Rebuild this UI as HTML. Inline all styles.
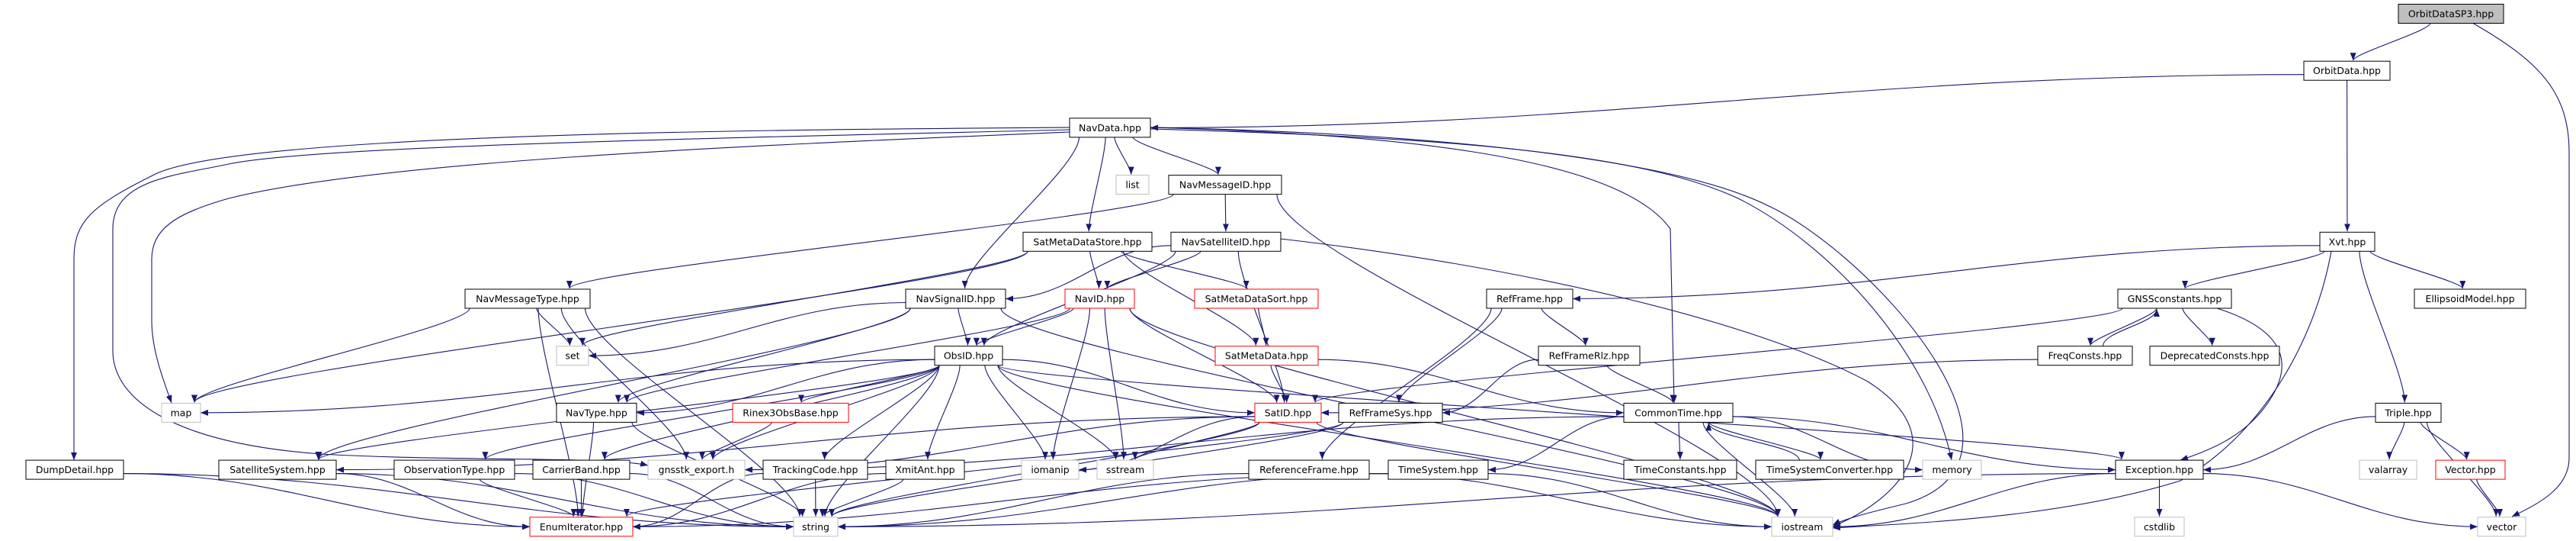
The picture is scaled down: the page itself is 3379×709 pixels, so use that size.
<!DOCTYPE html>
<html><head><meta charset="utf-8">
<style>
html,body{margin:0;padding:0;background:#fff;}
svg{display:block;}
text{font-family:"DejaVu Sans","Liberation Sans",sans-serif;font-size:12.5px;fill:#000;text-anchor:middle;}
</style></head>
<body>
<svg id="g" width="3379" height="709" viewBox="0 0 3379 709" xmlns="http://www.w3.org/2000/svg">
<defs>
<marker id="ah" markerUnits="userSpaceOnUse" markerWidth="11" markerHeight="9" refX="10" refY="4" orient="auto">
<path d="M0,0 L10,4 L0,8 z" fill="#191970"/>
</marker>
</defs>
<g id="edges" fill="none" stroke="#191970" stroke-width="1.1"></g>
<g id="nodes">
<g id="OrbitDataSP3"><rect x="3146" y="5.5" width="138" height="25" fill="#bfbfbf" stroke="#000"/><text x="3215" y="22.5">OrbitDataSP3.hpp</text></g>
<g id="OrbitData"><rect x="3022" y="80.2" width="113" height="25" fill="#fff" stroke="#000"/><text x="3078.5" y="97.2">OrbitData.hpp</text></g>
<g id="NavData"><rect x="1403" y="154.9" width="106" height="25" fill="#fff" stroke="#000"/><text x="1456" y="171.9">NavData.hpp</text></g>
<g id="list"><rect x="1464" y="229.6" width="43" height="25" fill="#fff" stroke="#bfbfbf"/><text x="1485.5" y="246.6">list</text></g>
<g id="NavMessageID"><rect x="1533" y="229.6" width="148" height="25" fill="#fff" stroke="#000"/><text x="1607" y="246.6">NavMessageID.hpp</text></g>
<g id="SatMetaDataStore"><rect x="1342" y="304.3" width="169" height="25" fill="#fff" stroke="#000"/><text x="1426.5" y="321.3">SatMetaDataStore.hpp</text></g>
<g id="NavSatelliteID"><rect x="1536" y="304.3" width="144" height="25" fill="#fff" stroke="#000"/><text x="1608" y="321.3">NavSatelliteID.hpp</text></g>
<g id="Xvt"><rect x="3043" y="304.3" width="72" height="25" fill="#fff" stroke="#000"/><text x="3079" y="321.3">Xvt.hpp</text></g>
<g id="NavMessageType"><rect x="610" y="379" width="164" height="25" fill="#fff" stroke="#000"/><text x="692" y="396">NavMessageType.hpp</text></g>
<g id="NavSignalID"><rect x="1188" y="379" width="131" height="25" fill="#fff" stroke="#000"/><text x="1253.5" y="396">NavSignalID.hpp</text></g>
<g id="NavID"><rect x="1397" y="379" width="91" height="25" fill="#fff" stroke="#f00"/><text x="1442.5" y="396">NavID.hpp</text></g>
<g id="SatMetaDataSort"><rect x="1567" y="379" width="162" height="25" fill="#fff" stroke="#f00"/><text x="1648" y="396">SatMetaDataSort.hpp</text></g>
<g id="RefFrame"><rect x="1950" y="379" width="113" height="25" fill="#fff" stroke="#000"/><text x="2006.5" y="396">RefFrame.hpp</text></g>
<g id="GNSSconstants"><rect x="2778" y="379" width="149" height="25" fill="#fff" stroke="#000"/><text x="2852.5" y="396">GNSSconstants.hpp</text></g>
<g id="EllipsoidModel"><rect x="3167" y="379" width="146" height="25" fill="#fff" stroke="#000"/><text x="3240" y="396">EllipsoidModel.hpp</text></g>
<g id="set"><rect x="730" y="453.7" width="42" height="25" fill="#fff" stroke="#bfbfbf"/><text x="751" y="470.7">set</text></g>
<g id="ObsID"><rect x="1226" y="453.7" width="89" height="25" fill="#fff" stroke="#000"/><text x="1270.5" y="470.7">ObsID.hpp</text></g>
<g id="SatMetaData"><rect x="1594" y="453.7" width="135" height="25" fill="#fff" stroke="#f00"/><text x="1661.5" y="470.7">SatMetaData.hpp</text></g>
<g id="RefFrameRlz"><rect x="2018" y="453.7" width="133" height="25" fill="#fff" stroke="#000"/><text x="2084.5" y="470.7">RefFrameRlz.hpp</text></g>
<g id="FreqConsts"><rect x="2673" y="453.7" width="124" height="25" fill="#fff" stroke="#000"/><text x="2735" y="470.7">FreqConsts.hpp</text></g>
<g id="DeprecatedConsts"><rect x="2820" y="453.7" width="170" height="25" fill="#fff" stroke="#000"/><text x="2905" y="470.7">DeprecatedConsts.hpp</text></g>
<g id="map"><rect x="212" y="528.4" width="51" height="25" fill="#fff" stroke="#bfbfbf"/><text x="237.5" y="545.4">map</text></g>
<g id="NavType"><rect x="730" y="528.4" width="105" height="25" fill="#fff" stroke="#000"/><text x="782.5" y="545.4">NavType.hpp</text></g>
<g id="Rinex3ObsBase"><rect x="961" y="528.4" width="152" height="25" fill="#fff" stroke="#f00"/><text x="1037" y="545.4">Rinex3ObsBase.hpp</text></g>
<g id="SatID"><rect x="1646" y="528.4" width="87" height="25" fill="#fff" stroke="#f00"/><text x="1689.5" y="545.4">SatID.hpp</text></g>
<g id="RefFrameSys"><rect x="1756" y="528.4" width="136" height="25" fill="#fff" stroke="#000"/><text x="1824" y="545.4">RefFrameSys.hpp</text></g>
<g id="CommonTime"><rect x="2130" y="528.4" width="143" height="25" fill="#fff" stroke="#000"/><text x="2201.5" y="545.4">CommonTime.hpp</text></g>
<g id="Triple"><rect x="3116" y="528.4" width="86" height="25" fill="#fff" stroke="#000"/><text x="3159" y="545.4">Triple.hpp</text></g>
<g id="DumpDetail"><rect x="34" y="603.1" width="128" height="25" fill="#fff" stroke="#000"/><text x="98" y="620.1">DumpDetail.hpp</text></g>
<g id="SatelliteSystem"><rect x="287" y="603.1" width="154" height="25" fill="#fff" stroke="#000"/><text x="364" y="620.1">SatelliteSystem.hpp</text></g>
<g id="ObservationType"><rect x="517" y="603.1" width="158" height="25" fill="#fff" stroke="#000"/><text x="596" y="620.1">ObservationType.hpp</text></g>
<g id="CarrierBand"><rect x="699" y="603.1" width="127" height="25" fill="#fff" stroke="#000"/><text x="762.5" y="620.1">CarrierBand.hpp</text></g>
<g id="gnsstk_export"><rect x="850" y="603.1" width="127" height="25" fill="#fff" stroke="#bfbfbf"/><text x="913.5" y="620.1">gnsstk_export.h</text></g>
<g id="TrackingCode"><rect x="1001" y="603.1" width="137" height="25" fill="#fff" stroke="#000"/><text x="1069.5" y="620.1">TrackingCode.hpp</text></g>
<g id="XmitAnt"><rect x="1162" y="603.1" width="103" height="25" fill="#fff" stroke="#000"/><text x="1213.5" y="620.1">XmitAnt.hpp</text></g>
<g id="iomanip"><rect x="1340" y="603.1" width="75" height="25" fill="#fff" stroke="#bfbfbf"/><text x="1377.5" y="620.1">iomanip</text></g>
<g id="sstream"><rect x="1439" y="603.1" width="74" height="25" fill="#fff" stroke="#bfbfbf"/><text x="1476" y="620.1">sstream</text></g>
<g id="ReferenceFrame"><rect x="1638" y="603.1" width="158" height="25" fill="#fff" stroke="#000"/><text x="1717" y="620.1">ReferenceFrame.hpp</text></g>
<g id="TimeSystem"><rect x="1821" y="603.1" width="131" height="25" fill="#fff" stroke="#000"/><text x="1886.5" y="620.1">TimeSystem.hpp</text></g>
<g id="TimeConstants"><rect x="2130" y="603.1" width="148" height="25" fill="#fff" stroke="#000"/><text x="2204" y="620.1">TimeConstants.hpp</text></g>
<g id="TimeSystemConverter"><rect x="2303" y="603.1" width="194" height="25" fill="#fff" stroke="#000"/><text x="2400" y="620.1">TimeSystemConverter.hpp</text></g>
<g id="memory"><rect x="2522" y="603.1" width="77" height="25" fill="#fff" stroke="#bfbfbf"/><text x="2560.5" y="620.1">memory</text></g>
<g id="Exception"><rect x="2775" y="603.1" width="115" height="25" fill="#fff" stroke="#000"/><text x="2832.5" y="620.1">Exception.hpp</text></g>
<g id="valarray"><rect x="3095" y="603.1" width="75" height="25" fill="#fff" stroke="#bfbfbf"/><text x="3132.5" y="620.1">valarray</text></g>
<g id="Vector"><rect x="3195" y="603.1" width="91" height="25" fill="#fff" stroke="#f00"/><text x="3240.5" y="620.1">Vector.hpp</text></g>
<g id="EnumIterator"><rect x="695" y="677.8" width="135" height="25" fill="#fff" stroke="#f00"/><text x="762.5" y="694.8">EnumIterator.hpp</text></g>
<g id="string"><rect x="1041" y="677.8" width="58" height="25" fill="#fff" stroke="#bfbfbf"/><text x="1070" y="694.8">string</text></g>
<g id="iostream"><rect x="2324" y="677.8" width="80" height="25" fill="#fff" stroke="#bfbfbf"/><text x="2364" y="694.8">iostream</text></g>
<g id="cstdlib"><rect x="2800" y="677.8" width="65" height="25" fill="#fff" stroke="#bfbfbf"/><text x="2832.5" y="694.8">cstdlib</text></g>
<g id="vector"><rect x="3250" y="677.8" width="63" height="25" fill="#fff" stroke="#bfbfbf"/><text x="3281.5" y="694.8">vector</text></g>
</g>
</svg>
<script>
(function(){
var NS="http://www.w3.org/2000/svg";
var eg=document.getElementById("edges");
function box(id){var r=document.getElementById(id).querySelector("rect");
 var x=+r.getAttribute("x"),y=+r.getAttribute("y"),w=+r.getAttribute("width"),h=+r.getAttribute("height");
 return {x1:x,x2:x+w,y1:y,y2:y+h,cx:x+w/2,cy:y+h/2};}
function cl(v,a,b){return Math.max(a,Math.min(b,v));}
function P(d){var p=document.createElementNS(NS,"path");p.setAttribute("d",d);p.setAttribute("marker-end","url(#ah)");eg.appendChild(p);}
function E(a,b){
 var s=box(a),t=box(b);
 var dx=t.cx-s.cx, dy=t.y1-s.y2;
 if(dy<0 && t.y2<s.y1){
  var sx=cl(s.cx+dx*0.2,s.x1+6,s.x2-6), tx=cl(t.cx-dx*0.2,t.x1+6,t.x2-6);
  var vy=s.y1-t.y2;
  P("M"+sx+","+s.y1+" C"+sx+","+(s.y1-vy*0.4)+" "+tx+","+(t.y2+vy*0.4)+" "+tx+","+(t.y2+1));return;}
 if(Math.abs(dx)>5*Math.max(dy,1) && dy<=60){
  var right=dx>0;
  var sx=right?s.x2:s.x1, sy=s.cy+5;
  var tx=right?t.x1:t.x2, ty=t.cy;
  if(dy<=0){sy=s.cy;ty=t.cy;}
  var m=(tx-sx)*0.4;
  P("M"+sx+","+sy+" C"+(sx+m)+","+sy+" "+(tx-m)+","+ty+" "+tx+","+ty);return;}
 var sx=cl(s.cx+dx*0.2,s.x1+6,s.x2-6), tx=cl(t.cx-dx*0.06,t.x1+8,t.x2-8);
 var vy=t.y1-s.y2;
 P("M"+sx+","+s.y2+" C"+sx+","+(s.y2+vy*0.2)+" "+tx+","+(t.y1-vy*0.2)+" "+tx+","+(t.y1-1));
}
var edges=[
["OrbitDataSP3","OrbitData"],
["OrbitData","NavData"],["OrbitData","Xvt"],
["NavData","list"],["NavData","NavMessageID"],["NavData","SatMetaDataStore"],["NavData","NavSignalID"],
["NavMessageID","NavMessageType"],["NavMessageID","NavSatelliteID"],
["SatMetaDataStore","map"],["SatMetaDataStore","set"],["SatMetaDataStore","NavID"],["SatMetaDataStore","SatMetaDataSort"],["SatMetaDataStore","SatMetaData"],
["NavSatelliteID","NavSignalID"],["NavSatelliteID","NavID"],["NavSatelliteID","ObsID"],
["NavMessageType","map"],["NavMessageType","set"],["NavMessageType","EnumIterator"],["NavMessageType","gnsstk_export"],["NavMessageType","string"],
["NavSignalID","ObsID"],["NavSignalID","set"],["NavSignalID","NavType"],["NavSignalID","SatelliteSystem"],["NavSignalID","iostream"],
["NavID","ObsID"],["NavID","NavType"],["NavID","SatID"],["NavID","iomanip"],["NavID","sstream"],["NavID","iostream"],
["SatMetaDataSort","SatMetaData"],
["SatMetaData","SatID"],["SatMetaData","CommonTime"],
["ObsID","map"],["ObsID","NavType"],["ObsID","Rinex3ObsBase"],["ObsID","SatID"],["ObsID","gnsstk_export"],["ObsID","ObservationType"],["ObsID","CarrierBand"],["ObsID","TrackingCode"],["ObsID","XmitAnt"],["ObsID","iomanip"],["ObsID","sstream"],["ObsID","string"],["ObsID","iostream"],["ObsID","Exception"],["ObsID","SatelliteSystem"],
["NavType","EnumIterator"],["NavType","string"],
["Rinex3ObsBase","gnsstk_export"],
["SatID","gnsstk_export"],["SatID","iomanip"],["SatID","sstream"],["SatID","SatelliteSystem"],["SatID","iostream"],["SatID","string"],
["DumpDetail","EnumIterator"],["DumpDetail","string"],
["SatelliteSystem","EnumIterator"],["SatelliteSystem","string"],
["ObservationType","EnumIterator"],["ObservationType","string"],
["CarrierBand","EnumIterator"],["CarrierBand","string"],
["TrackingCode","EnumIterator"],["TrackingCode","string"],
["XmitAnt","EnumIterator"],["XmitAnt","string"],
["RefFrame","RefFrameRlz"],["RefFrame","RefFrameSys"],["RefFrame","ReferenceFrame"],
["RefFrameRlz","RefFrameSys"],["RefFrameRlz","CommonTime"],
["RefFrameSys","EnumIterator"],["RefFrameSys","string"],
["ReferenceFrame","string"],["ReferenceFrame","iostream"],
["CommonTime","Exception"],["CommonTime","TimeSystem"],["CommonTime","TimeConstants"],["CommonTime","TimeSystemConverter"],["CommonTime","memory"],["CommonTime","iostream"],["CommonTime","gnsstk_export"],
["TimeSystemConverter","CommonTime"],
["TimeSystem","EnumIterator"],["TimeSystem","string"],["TimeSystem","iostream"],
["Xvt","RefFrame"],["Xvt","GNSSconstants"],["Xvt","EllipsoidModel"],["Xvt","Triple"],
["GNSSconstants","FreqConsts"],["GNSSconstants","DeprecatedConsts"],["GNSSconstants","SatID"],
["FreqConsts","GNSSconstants"],["FreqConsts","SatID"],
["Triple","Exception"],["Triple","valarray"],["Triple","Vector"],["Triple","vector"],
["Vector","vector"],
["Exception","cstdlib"],["Exception","vector"],["Exception","string"],["Exception","iostream"],
["NavMessageID","iostream"],["NavSatelliteID","SatID"]
];
edges.forEach(function(e){E(e[0],e[1]);});
P("M3244,30.5 C3330,80 3370,120 3370,200 L3370,600 C3370,640 3330,660 3295,677");
P("M1403,167 C1000,170 300,175 200,230 C120,270 97,290 97,340 L97,603");
P("M1403,170 C1000,180 420,190 300,215 C230,230 148,235 148,300 L148,460 C148,520 220,580 420,595 C600,605 800,598 850,610");
P("M1403,173 C1000,190 500,210 300,260 C230,280 199,300 199,340 L199,420 C199,460 215,500 225,528");
P("M1509,167 C1800,175 2120,200 2191,300 L2196,528");
P("M1509,169 C1900,180 2150,200 2280,260 C2400,320 2530,460 2560,603");
P("M1509,167 C1900,175 2200,210 2320,270 C2450,330 2700,600 2500,660 C2450,672 2420,680 2404,688");
P("M1680,313 C2000,350 2300,420 2450,500 C2560,570 2500,650 2404,690");
P("M3058,329 C3040,430 2980,560 2860,630 C2700,680 2500,686 2404,692");
P("M2908,404 C2990,430 3010,470 2980,520 C2950,570 2900,590 2860,603");
})();
</script>
</body></html>
